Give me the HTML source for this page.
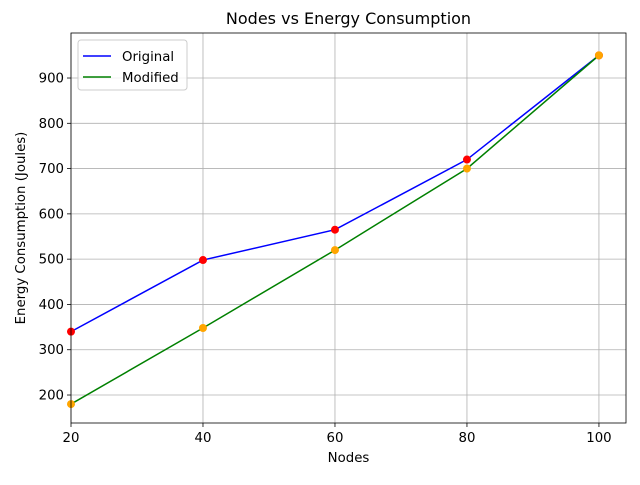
<!DOCTYPE html>
<html><head><meta charset="utf-8"><style>
body{margin:0;background:#fff;font-family:"Liberation Sans","DejaVu Sans",sans-serif}
</style></head><body>
<svg id="chart" width="640" height="480" xmlns="http://www.w3.org/2000/svg" font-family="DejaVu Sans, Liberation Sans, sans-serif"></svg>
<script>
const categories=[20,40,60,80,100];
const originalValues=[340,498,565,720,950];
const modifiedValues=[180,348,520,700,950];
const xTicks=[20,40,60,80,100];
const yTicks=[200,300,400,500,600,700,800,900];
const L=71,R=626,T=33,B=423;
const XMIN=20,XMAX=104.1,YMIN=138.2,YMAX=999.4;
const sx=v=>L+(v-XMIN)/(XMAX-XMIN)*(R-L);
const sy=v=>B-(v-YMIN)/(YMAX-YMIN)*(B-T);
const svg=document.getElementById('chart');
const NS='http://www.w3.org/2000/svg';
function mk(tag,attrs,parent){const e=document.createElementNS(NS,tag);for(const k in attrs)e.setAttribute(k,attrs[k]);(parent||svg).appendChild(e);return e;}
xTicks.forEach(t=>{const l=mk('line',{x1:sx(t),x2:sx(t),y1:T,y2:B,stroke:'#b0b0b0','stroke-width':0.8});


mk('line',{x1:sx(t),x2:sx(t),y1:B,y2:B+4,stroke:'#000','stroke-width':0.8});
const tx=mk('text',{x:sx(t),y:B+19,'text-anchor':'middle','font-size':13.3});tx.textContent=t;

});
yTicks.forEach(t=>{const l=mk('line',{x1:L,x2:R,y1:sy(t),y2:sy(t),stroke:'#b0b0b0','stroke-width':0.8});


mk('line',{x1:L-4,x2:L,y1:sy(t),y2:sy(t),stroke:'#000','stroke-width':0.8});
const tx=mk('text',{x:L-7,y:sy(t)+4.5,'text-anchor':'end','font-size':13.3});tx.textContent=t;

});
function series(vals,lineColor,ptColor,name){
const p=mk('polyline',{points:categories.map((c,i)=>sx(c)+','+sy(vals[i])).join(' '),fill:'none',stroke:lineColor,'stroke-width':1.5});


categories.forEach((c,i)=>{const d=mk('circle',{cx:sx(c),cy:sy(vals[i]),r:4,fill:ptColor});

});}
series(originalValues,'#0000ff','#ff0000','original');
series(modifiedValues,'#008000','#ffa500','modified');
const frame=mk('rect',{x:L,y:T,width:R-L,height:B-T,fill:'none',stroke:'#000','stroke-width':0.8});


const title=mk('text',{x:(L+R)/2,y:T-9,'text-anchor':'middle','font-size':16});title.textContent='Nodes vs Energy Consumption';


const xl=mk('text',{x:(L+R)/2,y:462,'text-anchor':'middle','font-size':13.3});xl.textContent='Nodes';


const yl=mk('text',{x:0,y:0,'text-anchor':'middle','font-size':13.3,transform:'translate(25,'+(T+B)/2+') rotate(-90)'});yl.textContent='Energy Consumption (Joules)';


const lg=mk('g',{});


mk('rect',{x:78,y:40,width:109,height:50,rx:3,fill:'#fff','fill-opacity':0.8,stroke:'#ccc'},lg);
[['Original','#0000ff',56],['Modified','#008000',77]].forEach(([n,c,y])=>{
const e=mk('g',{},lg);


mk('line',{x1:83,x2:111,y1:y,y2:y,stroke:c,'stroke-width':1.5},e);
const t=mk('text',{x:122,y:y+5,'font-size':13.3},e);t.textContent=n;});
</script>
</body></html>
